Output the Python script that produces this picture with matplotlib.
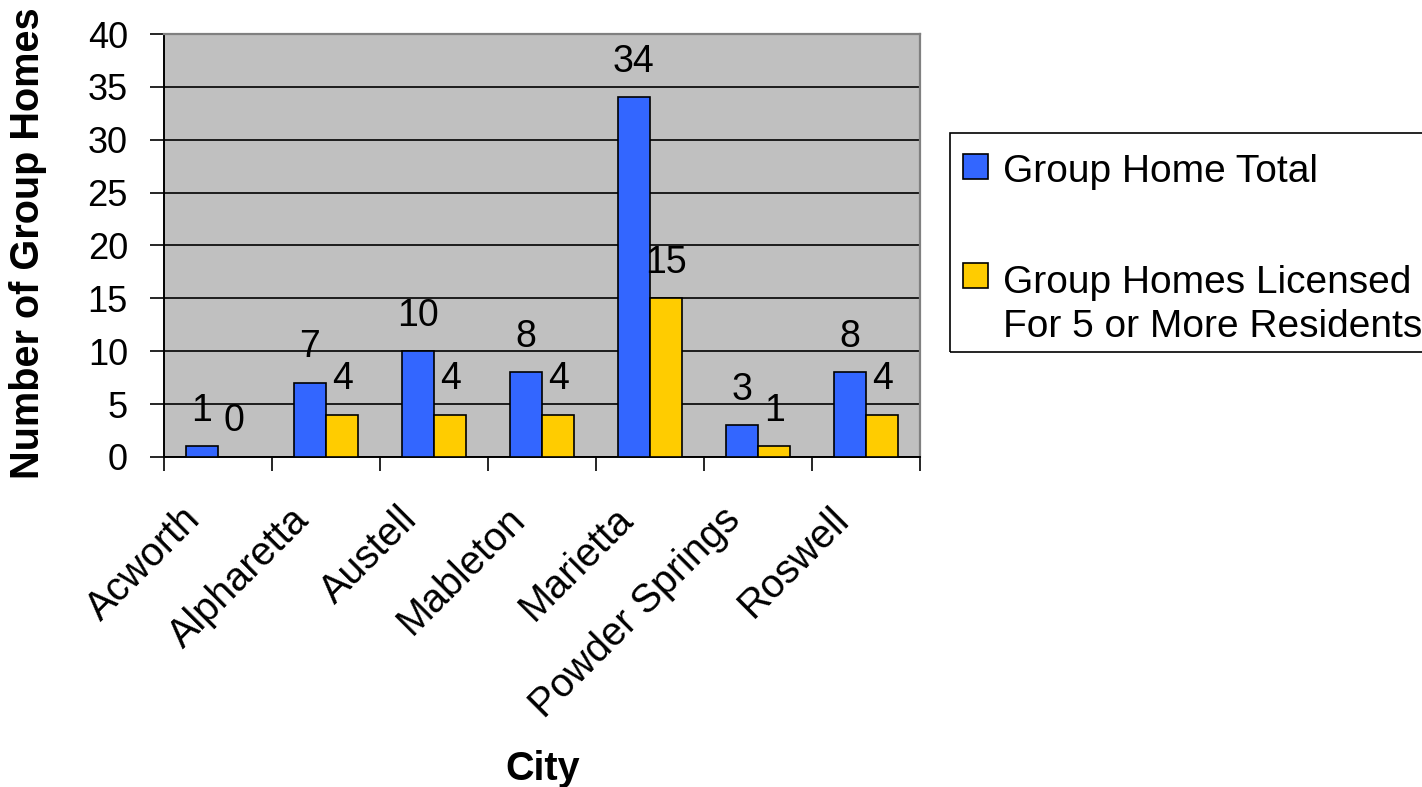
import matplotlib
matplotlib.use("Agg")
import matplotlib.pyplot as plt
from matplotlib.patches import Rectangle
import numpy as np

# ---- data ----
cities = ["Acworth", "Alpharetta", "Austell", "Mableton", "Marietta",
          "Powder Springs", "Roswell"]
group_home_total = [1, 7, 10, 8, 34, 3, 8]
licensed_5_plus = [0, 4, 4, 4, 15, 1, 4]
series_names = ["Group Home Total",
                "Group Homes Licensed\nFor 5 or More Residents"]
y_ticks = [0, 5, 10, 15, 20, 25, 30, 35, 40]
x_title = "City"
y_title = "Number of Group Homes"

BLUE = "#3366FF"
YELLOW = "#FFCC00"

plt.rcParams["font.family"] = ["Liberation Sans", "DejaVu Sans"]

W, H = 1422, 787
fig = plt.figure(figsize=(W / 100, H / 100), dpi=100)
ax = fig.add_axes([164 / W, 1 - 457 / H, 756 / W, 423 / H])
ax.set_facecolor("#C0C0C0")

x = np.arange(len(cities))
bw = 0.3
b1 = ax.bar(x - bw / 2, group_home_total, bw, color=BLUE, edgecolor="black",
            linewidth=1.2, zorder=3)
b2 = ax.bar(x + bw / 2, licensed_5_plus, bw, color=YELLOW, edgecolor="black",
            linewidth=1.2, zorder=3)

for bars, vals in ((b1, group_home_total), (b2, licensed_5_plus)):
    for rect, v in zip(bars, vals):
        ax.annotate(str(v), (rect.get_x() + rect.get_width() / 2, v),
                    xytext=(0, 18.5), textcoords="offset points",
                    ha="center", va="baseline", fontsize=27, zorder=5)

ax.set_xlim(-0.5, len(cities) - 0.5)
ax.set_ylim(0, 40)
ax.set_yticks(y_ticks)
ax.yaxis.grid(True, color="black", linewidth=1.2)
ax.set_axisbelow(True)

# category labels (rotated, anchored slightly left of each category centre)
label_shift = -0.34
ax.set_xticks(x + label_shift)
ax.set_xticklabels(cities, rotation=45, ha="right", va="top",
                   rotation_mode="anchor", fontsize=28.5)
ax.set_xticks(np.arange(-0.5, len(cities), 1.0), minor=True)
ax.tick_params(axis="x", which="major", length=0, pad=31)
ax.tick_params(axis="x", which="minor", length=10, width=1.2, direction="out")
ax.tick_params(axis="y", length=10, width=1.2, direction="out", pad=16,
               labelsize=26)

for s in ("left", "bottom"):
    ax.spines[s].set_color("black")
    ax.spines[s].set_linewidth(1.4)
for s in ("top", "right"):
    ax.spines[s].set_color("#808080")
    ax.spines[s].set_linewidth(1.6)

fig.text(28 / W, 1 - 243 / H, y_title, rotation=90, ha="center", va="center",
         fontsize=28.5, fontweight="bold")
fig.text(543 / W, 1 - 780 / H, x_title, ha="center", va="baseline",
         fontsize=28.5, fontweight="bold")

# ---- legend box ----
fig.patches.append(Rectangle((950 / W, 1 - 352 / H), 500 / W, 219 / H,
                             transform=fig.transFigure, fill=False,
                             edgecolor="black", linewidth=1.2))
for (top, color, name, base) in ((154, BLUE, series_names[0], 182),
                                 (263, YELLOW, series_names[1], 337)):
    fig.patches.append(Rectangle((963 / W, 1 - (top + 25) / H), 25 / W, 25 / H,
                                 transform=fig.transFigure, facecolor=color,
                                 edgecolor="black", linewidth=1.2))
    fig.text(1003 / W, 1 - base / H, name, ha="left", va="baseline",
             fontsize=28, linespacing=1.3)

fig.savefig("out.png", dpi=100)
